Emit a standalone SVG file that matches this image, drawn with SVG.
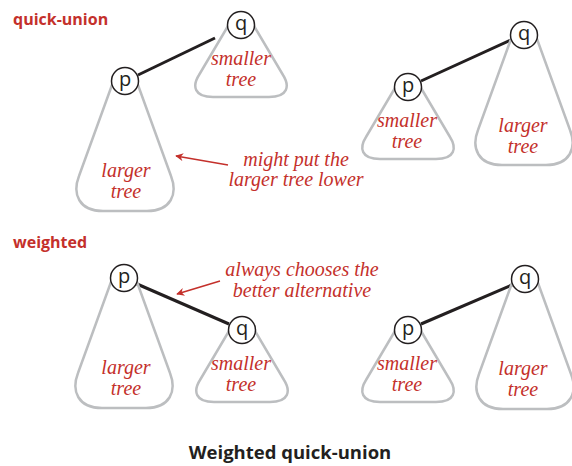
<svg xmlns="http://www.w3.org/2000/svg" xmlns:xlink="http://www.w3.org/1999/xlink" width="572" height="466" viewBox="0 0 572 466">
<style>
.tree{fill:none;stroke:#bcbec0;stroke-width:2.5;stroke-linejoin:round;stroke-linecap:round}
.node{fill:#fff;stroke:#231f20;stroke-width:1.5}
.nl{font-family:"Open Sans","Liberation Sans",sans-serif;font-size:20px;fill:#231f20;text-anchor:middle}
.lbl{font-family:"Liberation Serif",serif;font-style:italic;font-size:20px;fill:#c4302b;text-anchor:middle}
.head{font-family:"Open Sans","Liberation Sans",sans-serif;font-weight:bold;font-size:16px;fill:#c4302b}
.title{font-family:"Open Sans","Liberation Sans",sans-serif;font-weight:bold;font-size:18.5px;fill:#231f20;text-anchor:middle}
.edge{stroke:#231f20;stroke-width:3;fill:none}
.ann{stroke:#c4302b;stroke-width:1.5;fill:none}
</style>
<defs>
<path id="small" d="M -13,1 L -42,50 C -49,61 -47,72 -28,72 L 28,72 C 47,72 49,61 42,50 L 13,1"/>
<path id="large" d="M -13,4 L -46,95 C -53,113 -46,130 -22,130 L 22,130 C 46,130 53,113 46,95 L 13,4"/>
<marker id="ah" viewBox="0 0 10 10" refX="9" refY="5" markerWidth="10" markerHeight="8" markerUnits="userSpaceOnUse" orient="auto">
<path d="M0,0 L10,5 L0,10 L3,5 Z" fill="#c4302b"/>
</marker>
</defs>

<text class="head" x="13" y="25">quick-union</text>
<text class="head" x="13" y="248">weighted</text>
<text class="title" x="290" y="459">Weighted quick-union</text>

<g id="connectors">
<line class="edge" x1="138" y1="75" x2="215" y2="38"/>
<line class="edge" x1="421" y1="81" x2="511" y2="40"/>
<line class="edge" x1="137" y1="284" x2="229" y2="324"/>
<line class="edge" x1="421" y1="324" x2="512" y2="285"/>
<line class="ann" x1="228" y1="165" x2="176" y2="156" marker-end="url(#ah)"/>
<line class="ann" x1="220" y1="281" x2="177" y2="294" marker-end="url(#ah)"/>
</g>

<g id="tl-q-tree">
<use class="tree" xlink:href="#small" x="241" y="25"/>
<text class="lbl" x="241" y="65">smaller</text>
<text class="lbl" x="241" y="86">tree</text>
</g>
<g id="tl-p-tree">
<use class="tree" xlink:href="#large" x="125" y="81"/>
<text class="lbl" x="126" y="177">larger</text>
<text class="lbl" x="126" y="198">tree</text>
</g>
<g id="tl-q"><circle class="node" cx="241" cy="25" r="13.5"/><text class="nl" x="241" y="30">q</text></g>
<g id="tl-p"><circle class="node" cx="125" cy="81" r="13.5"/><text class="nl" x="125" y="86">p</text></g>

<g id="tr-p-tree">
<use class="tree" xlink:href="#small" x="408" y="87"/>
<text class="lbl" x="407" y="127">smaller</text>
<text class="lbl" x="407" y="148">tree</text>
</g>
<g id="tr-q-tree">
<use class="tree" xlink:href="#large" x="524" y="35"/>
<text class="lbl" x="523" y="132">larger</text>
<text class="lbl" x="523" y="153">tree</text>
</g>
<g id="tr-q"><circle class="node" cx="524" cy="35" r="13.5"/><text class="nl" x="524" y="40">q</text></g>
<g id="tr-p"><circle class="node" cx="408" cy="87" r="13.5"/><text class="nl" x="408" y="92">p</text></g>

<g id="bl-p-tree">
<use class="tree" xlink:href="#large" x="124" y="278"/>
<text class="lbl" x="126" y="374">larger</text>
<text class="lbl" x="126" y="395">tree</text>
</g>
<g id="bl-q-tree">
<use class="tree" xlink:href="#small" x="242" y="330"/>
<text class="lbl" x="241" y="370">smaller</text>
<text class="lbl" x="241" y="391">tree</text>
</g>
<g id="bl-p"><circle class="node" cx="124" cy="278" r="13.5"/><text class="nl" x="124" y="283">p</text></g>
<g id="bl-q"><circle class="node" cx="242" cy="330" r="13.5"/><text class="nl" x="242" y="335">q</text></g>

<g id="br-p-tree">
<use class="tree" xlink:href="#small" x="408" y="330"/>
<text class="lbl" x="407" y="370">smaller</text>
<text class="lbl" x="407" y="391">tree</text>
</g>
<g id="br-q-tree">
<use class="tree" xlink:href="#large" x="525" y="279"/>
<text class="lbl" x="523" y="375">larger</text>
<text class="lbl" x="523" y="396">tree</text>
</g>
<g id="br-q"><circle class="node" cx="525" cy="279" r="13.5"/><text class="nl" x="525" y="284">q</text></g>
<g id="br-p"><circle class="node" cx="408" cy="330" r="13.5"/><text class="nl" x="408" y="335">p</text></g>

<g id="note-1">
<text class="lbl" x="296" y="166">might put the</text>
<text class="lbl" x="296" y="186">larger tree lower</text>
</g>
<g id="note-2">
<text class="lbl" x="302" y="276">always chooses the</text>
<text class="lbl" x="302" y="297">better alternative</text>
</g>
</svg>
